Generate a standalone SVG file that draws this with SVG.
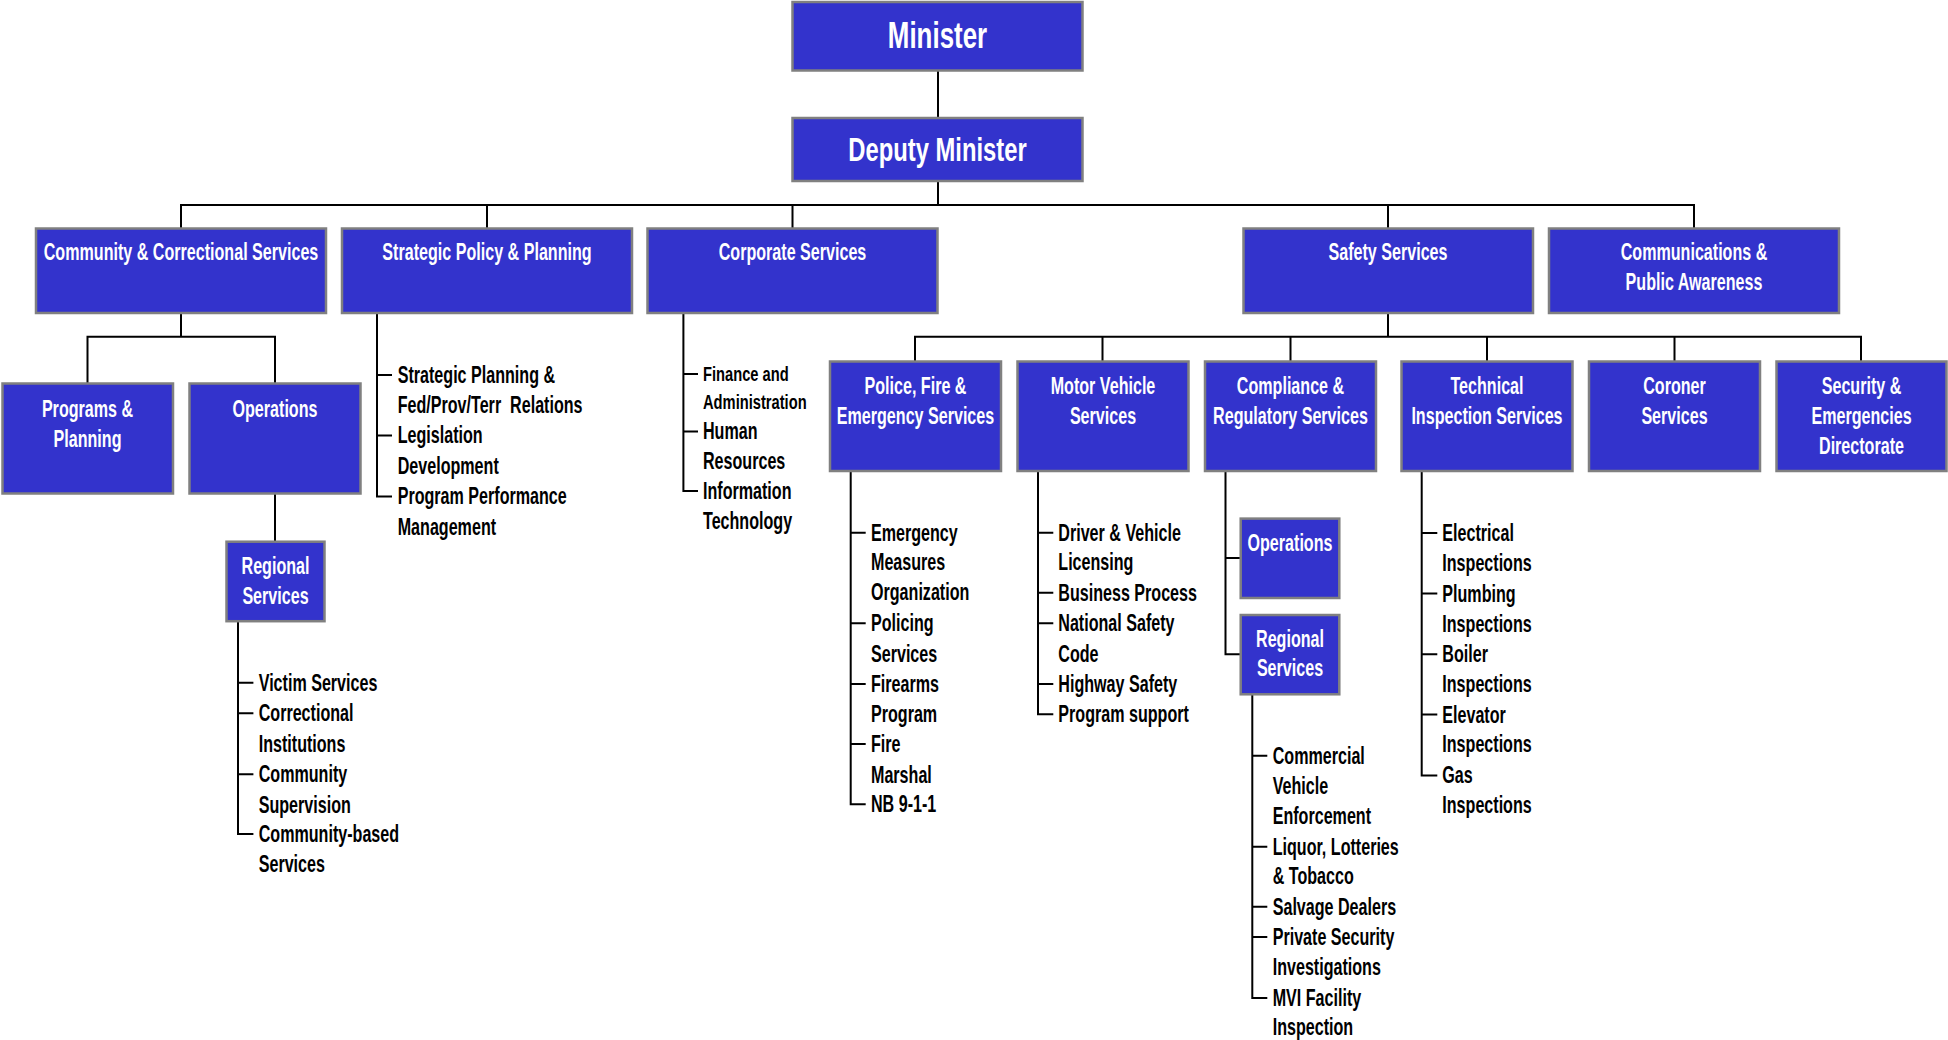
<svg xmlns="http://www.w3.org/2000/svg" width="1948" height="1040" viewBox="0 0 1948 1040">
<style>
.box{fill:#3333CC;stroke:#808080;stroke-width:2.5}
.con{fill:none;stroke:#000;stroke-width:2}
text{font-family:"Liberation Sans",Arial,sans-serif;font-weight:bold;transform-box:fill-box;transform:scaleX(0.7)}
.n{fill:#fff;font-size:23px;text-anchor:middle;transform-origin:center}
.l{fill:#000;font-size:23px;text-anchor:start;transform-origin:left center}
.s{font-size:21px}
</style>
<rect width="1948" height="1040" fill="#fff"/>
<g id="connectors">
<path class="con" d="M938 70.5V118"/>
<path class="con" d="M938 181V205M181 228.5V205H1694V228.5M487 205V228.5M792.5 205V228.5M1388 205V228.5"/>
<path class="con" d="M181 313V336.7M87.5 383.5V336.7H275V383.5"/>
<path class="con" d="M275 494V541.7"/>
<path class="con" d="M1388 313V336.7M915 361.5V336.7H1861V361.5M1102.5 336.7V361.5M1290.5 336.7V361.5M1487 336.7V361.5M1674.5 336.7V361.5"/>
<path class="con" d="M377 313V496.5H392M377 375H392M377 435.5H392"/>
<path class="con" d="M683.4 313V491H698M683.4 374H698M683.4 431.5H698"/>
<path class="con" d="M238 621V834H253.4M238 682.7H253.4M238 713.3H253.4M238 774.3H253.4"/>
<path class="con" d="M850.7 471V804.3H865.7M850.7 532.7H865.7M850.7 623.3H865.7M850.7 684H865.7M850.7 744H865.7"/>
<path class="con" d="M1038 471V714.3H1053.3M1038 532.7H1053.3M1038 592.7H1053.3M1038 623.3H1053.3M1038 684H1053.3"/>
<path class="con" d="M1225.5 471V654.3H1240.7M1225.5 558H1240.7"/>
<path class="con" d="M1252.3 694V997.9H1267.3M1252.3 755.7H1267.3M1252.3 846.8H1267.3M1252.3 906.8H1267.3M1252.3 937.1H1267.3"/>
<path class="con" d="M1421.7 471V775.4H1437.3M1421.7 532.9H1437.3M1421.7 593.6H1437.3M1421.7 654.3H1437.3M1421.7 714.6H1437.3"/>
</g>
<g id="minister"><rect class="box" x="792.5" y="2" width="290" height="68.5"/><text class="n" x="937.5" y="48" style="font-size:37px">Minister</text></g>
<g id="deputy"><rect class="box" x="792.5" y="118" width="290" height="63"/><text class="n" x="937.5" y="161.5" style="font-size:34px">Deputy Minister</text></g>
<g id="community"><rect class="box" x="36" y="228.5" width="290" height="84.5"/><text class="n" x="181" y="260">Community &amp; Correctional Services</text></g>
<g id="strategic"><rect class="box" x="342" y="228.5" width="290" height="84.5"/><text class="n" x="487" y="260">Strategic Policy &amp; Planning</text></g>
<g id="corporate"><rect class="box" x="647.5" y="228.5" width="290" height="84.5"/><text class="n" x="792.5" y="260">Corporate Services</text></g>
<g id="safety"><rect class="box" x="1243.5" y="228.5" width="289.5" height="84.5"/><text class="n" x="1388" y="260">Safety Services</text></g>
<g id="communications"><rect class="box" x="1549" y="228.5" width="290" height="84.5"/><text class="n" x="1694" y="260">Communications &amp;</text><text class="n" x="1694" y="290">Public Awareness</text></g>
<g id="programs"><rect class="box" x="2.5" y="383.5" width="170.5" height="110"/><text class="n" x="87.5" y="417">Programs &amp;</text><text class="n" x="87.5" y="447">Planning</text></g>
<g id="operations"><rect class="box" x="189.5" y="383.5" width="171" height="110"/><text class="n" x="275" y="417">Operations</text></g>
<g id="regional1"><rect class="box" x="226.5" y="541.7" width="98" height="79.5"/><text class="n" x="275.5" y="574">Regional</text><text class="n" x="275.5" y="604">Services</text></g>
<g id="police"><rect class="box" x="830" y="361.5" width="171" height="109.5"/><text class="n" x="915.5" y="394">Police, Fire &amp;</text><text class="n" x="915.5" y="424">Emergency Services</text></g>
<g id="motor"><rect class="box" x="1017.5" y="361.5" width="171" height="109.5"/><text class="n" x="1103" y="394">Motor Vehicle</text><text class="n" x="1103" y="424">Services</text></g>
<g id="compliance"><rect class="box" x="1205" y="361.5" width="171" height="109.5"/><text class="n" x="1290.5" y="394">Compliance &amp;</text><text class="n" x="1290.5" y="424">Regulatory Services</text></g>
<g id="technical"><rect class="box" x="1401.5" y="361.5" width="171" height="109.5"/><text class="n" x="1487" y="394">Technical</text><text class="n" x="1487" y="424">Inspection Services</text></g>
<g id="coroner"><rect class="box" x="1589" y="361.5" width="171" height="109.5"/><text class="n" x="1674.5" y="394">Coroner</text><text class="n" x="1674.5" y="424">Services</text></g>
<g id="security"><rect class="box" x="1776.5" y="361.5" width="170" height="109.5"/><text class="n" x="1861.5" y="394">Security &amp;</text><text class="n" x="1861.5" y="424">Emergencies</text><text class="n" x="1861.5" y="454">Directorate</text></g>
<g id="comp-operations"><rect class="box" x="1240.7" y="518.6" width="98.6" height="79.4"/><text class="n" x="1290" y="551">Operations</text></g>
<g id="comp-regional"><rect class="box" x="1240.7" y="615" width="98.6" height="79.3"/><text class="n" x="1290" y="647">Regional</text><text class="n" x="1290" y="676.5">Services</text></g>
<g id="strategic-list">
<text class="l" x="397.7" y="383">Strategic Planning &amp;</text>
<text class="l" x="397.7" y="413" xml:space="preserve">Fed/Prov/Terr  Relations</text>
<text class="l" x="397.7" y="443.5">Legislation</text>
<text class="l" x="397.7" y="474">Development</text>
<text class="l" x="397.7" y="504.5">Program Performance</text>
<text class="l" x="397.7" y="535">Management</text>
</g>
<g id="corporate-list">
<text class="l s" x="703" y="381.5">Finance and</text>
<text class="l s" x="703" y="409.5">Administration</text>
<text class="l" x="703" y="439.5">Human</text>
<text class="l" x="703" y="469.5">Resources</text>
<text class="l" x="703" y="499">Information</text>
<text class="l" x="703" y="529">Technology</text>
</g>
<g id="regional1-list">
<text class="l" x="258.7" y="690.7">Victim Services</text>
<text class="l" x="258.7" y="721.3">Correctional</text>
<text class="l" x="258.7" y="751.7">Institutions</text>
<text class="l" x="258.7" y="782.3">Community</text>
<text class="l" x="258.7" y="812.7">Supervision</text>
<text class="l" x="258.7" y="842">Community-based</text>
<text class="l" x="258.7" y="872.5">Services</text>
</g>
<g id="police-list">
<text class="l" x="871" y="540.7">Emergency</text>
<text class="l" x="871" y="570.3">Measures</text>
<text class="l" x="871" y="600.3">Organization</text>
<text class="l" x="871" y="631.3">Policing</text>
<text class="l" x="871" y="661.7">Services</text>
<text class="l" x="871" y="692">Firearms</text>
<text class="l" x="871" y="722">Program</text>
<text class="l" x="871" y="752">Fire</text>
<text class="l" x="871" y="782.7">Marshal</text>
<text class="l" x="871" y="812.3">NB 9-1-1</text>
</g>
<g id="motor-list">
<text class="l" x="1058.3" y="540.7">Driver &amp; Vehicle</text>
<text class="l" x="1058.3" y="570.3">Licensing</text>
<text class="l" x="1058.3" y="600.7">Business Process</text>
<text class="l" x="1058.3" y="631.3">National Safety</text>
<text class="l" x="1058.3" y="661.7">Code</text>
<text class="l" x="1058.3" y="692">Highway Safety</text>
<text class="l" x="1058.3" y="722.3">Program support</text>
</g>
<g id="comp-regional-list">
<text class="l" x="1272.7" y="763.7">Commercial</text>
<text class="l" x="1272.7" y="794">Vehicle</text>
<text class="l" x="1272.7" y="824.4">Enforcement</text>
<text class="l" x="1272.7" y="854.8">Liquor, Lotteries</text>
<text class="l" x="1272.7" y="884.4">&amp; Tobacco</text>
<text class="l" x="1272.7" y="914.8">Salvage Dealers</text>
<text class="l" x="1272.7" y="945.1">Private Security</text>
<text class="l" x="1272.7" y="975.5">Investigations</text>
<text class="l" x="1272.7" y="1005.9">MVI Facility</text>
<text class="l" x="1272.7" y="1035.5">Inspection</text>
</g>
<g id="technical-list">
<text class="l" x="1442.3" y="540.9">Electrical</text>
<text class="l" x="1442.3" y="570.9">Inspections</text>
<text class="l" x="1442.3" y="601.6">Plumbing</text>
<text class="l" x="1442.3" y="632">Inspections</text>
<text class="l" x="1442.3" y="662.3">Boiler</text>
<text class="l" x="1442.3" y="692.3">Inspections</text>
<text class="l" x="1442.3" y="722.6">Elevator</text>
<text class="l" x="1442.3" y="752.3">Inspections</text>
<text class="l" x="1442.3" y="783.4">Gas</text>
<text class="l" x="1442.3" y="813">Inspections</text>
</g>
</svg>
